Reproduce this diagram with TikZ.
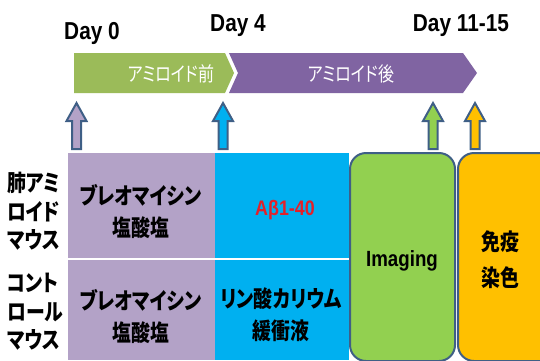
\documentclass[tikz,border=0pt]{standalone}
\usepackage{fontspec}
\setmainfont{Liberation Sans}[FakeStretch=0.85]
\newfontfamily\jp{Noto Sans CJK JP}[RawFeature=+palt, FakeStretch=0.8]
\newfontfamily\jpn{Noto Sans CJK JP}[RawFeature=+palt, FakeStretch=0.82]
\definecolor{tlgreen}{HTML}{9BBB59}
\definecolor{tlpurple}{HTML}{8064A2}
\definecolor{lilac}{HTML}{B3A2C7}
\definecolor{cyanb}{HTML}{00B0F0}
\definecolor{lime}{HTML}{92D050}
\definecolor{amber}{HTML}{FFC000}
\definecolor{slate}{HTML}{3F5F86}
\definecolor{redt}{HTML}{E3202A}
\tikzset{
  arrowline/.style={draw=slate, line width=2pt, line join=miter},
  boxline/.style={draw=slate, line width=2pt, rounded corners=16pt},
  daylbl/.style={inner sep=0pt, font=\bfseries\fontsize{24.5}{28}\selectfont},
  tllbl/.style={inner sep=0pt, text=white, font=\jp\fontsize{20}{22}\selectfont},
  rowlbl/.style={inner sep=0pt, align=left, anchor=west, font=\jpn\bfseries\fontsize{23}{28.5}\selectfont},
  celltxt/.style={inner sep=0pt, align=center, font=\jpn\bfseries\fontsize{23}{32}\selectfont},
}
\begin{document}
\begin{tikzpicture}[x=1pt, y=-1pt]
\useasboundingbox (0,0) rectangle (540,360);
\clip (0,0) rectangle (540,360);
% timeline chevrons
\fill[tlgreen] (74,53) -- (225,53) -- (234,73) -- (225,93) -- (74,93) -- cycle;
\fill[tlpurple] (229,53) -- (463,53) -- (477,73) -- (463,93) -- (229,93) -- (238,73) -- cycle;
\node[tllbl] (pre) at (171,74) {アミロイド前};
\node[tllbl] (post) at (351,74) {アミロイド後};
% day labels
\node[daylbl] (d0) at (92,33) {Day 0};
\node[daylbl] (d4) at (238,26) {Day 4};
\node[daylbl] (d11) at (461,26) {Day 11-15};
% up arrows
\foreach \x/\c in {76.5/lilac,223/cyanb,433/lime,475/amber}
  \draw[arrowline, fill=\c] (\x,103) -- (\x+10,121) -- (\x+4.5,121) -- (\x+4.5,149)
     -- (\x-4.5,149) -- (\x-4.5,121) -- (\x-10,121) -- cycle;
% table cells
\fill[lilac] (68,153) rectangle (215,360);
\fill[cyanb] (215,153) rectangle (349,360);
\draw[white, line width=2pt] (68,259) -- (349,259);
\draw[boxline, fill=lime] (350,153) rectangle (455,361);
\draw[boxline, fill=amber] (458,153) rectangle (570,361);
% row labels
\node[rowlbl] (r1) at (7,211.5) {肺アミ\\ロイド\\マウス};
\node[rowlbl] (r2) at (7,312) {コント\\ロール\\マウス};
% cell texts
\node[celltxt] (b1) at (141,211.5) {ブレオマイシン\\塩酸塩};
\node[celltxt] (b2) at (141,316.5) {ブレオマイシン\\塩酸塩};
\node[inner sep=0pt, text=redt, font=\bfseries\fontsize{21}{24}\selectfont] (ab) at (285,210) {Aβ1-40};
\node[celltxt] (pb) at (281,315) {リン酸カリウム\\緩衝液};
\node[inner sep=0pt, font=\bfseries\fontsize{22}{26}\selectfont] (img) at (402,261) {Imaging};
\node[celltxt, font=\jpn\bfseries\fontsize{23}{36}\selectfont] (ihc) at (500,260) {免疫\\染色};
\end{tikzpicture}
\end{document}
